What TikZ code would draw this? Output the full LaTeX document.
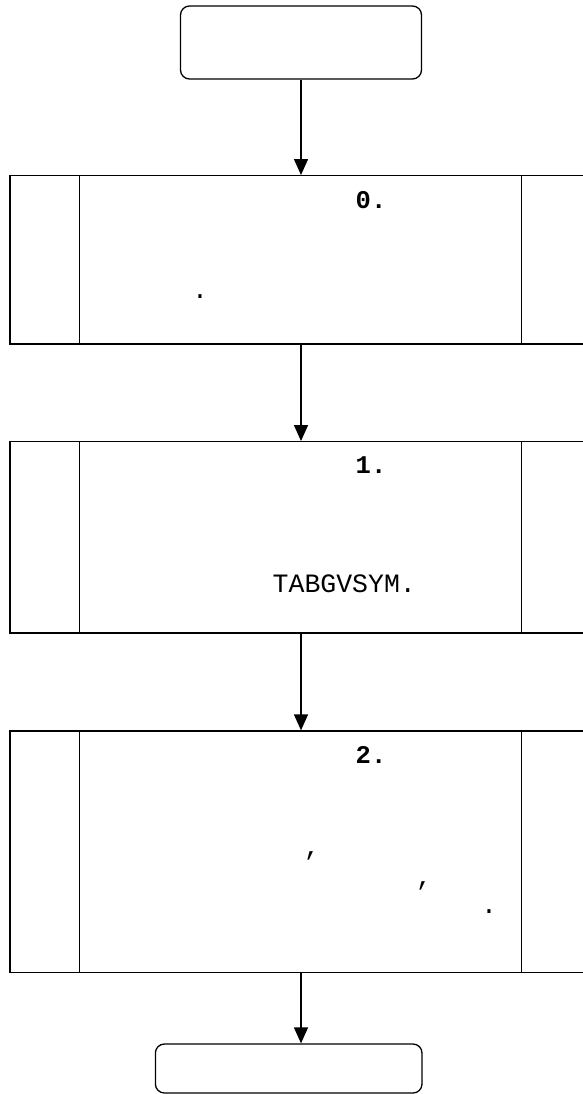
\documentclass[tikz,border=0pt]{standalone}
\usepackage{fontspec}
\setmonofont{Liberation Mono}
\usetikzlibrary{arrows.meta}

\tikzset{
  blk/.style={draw, line width=1.3pt, minimum width=582pt, inner sep=0pt},
  term/.style={draw, line width=1.3pt, rounded corners=9pt, inner sep=0pt},
  txt/.style={inner sep=0pt, font=\ttfamily\fontsize{26.5}{30}\selectfont},
  hd/.style={inner sep=0pt, anchor=base west, font=\ttfamily\bfseries\fontsize{25.5}{30}\selectfont},
  arr/.style={line width=1.3pt, -{Triangle[length=16pt,width=14pt]}}
}

\begin{document}
\begin{tikzpicture}[x=1pt,y=-1pt]

\clip (0,0) rectangle (583,1094);

\node[term, minimum width=241pt, minimum height=73pt] (t0) at (301,42.5) {};
\node[blk, minimum height=168.3pt] (b0) at (301,259.85) {};
\node[blk, minimum height=191.3pt] (b1) at (301,537.35) {};
\node[blk, minimum height=241.3pt] (b2) at (301,851.65) {};
\node[term, minimum width=266.6pt, minimum height=49pt] (t1) at (288.7,1068.5) {};

\foreach \b in {b0,b1,b2}{
  \draw[line width=1.3pt] ([xshift=70pt]\b.north west) -- ([xshift=70pt]\b.south west);
  \draw[line width=1.3pt] ([xshift=-71pt]\b.north east) -- ([xshift=-71pt]\b.south east);
}

\draw[arr] (t0) -- (b0);
\draw[arr] (b0) -- (b1);
\draw[arr] (b1) -- (b2);
\draw[arr] (b2.south) -- (b2.south |- t1.north);

\node[hd] (h0) at (355.5,208) {0.};
\node[txt, anchor=base] (p0) at (200,298) {.};

\node[hd] (h1) at (355.5,473) {1.};
\node[txt, anchor=base west] (l1) at (272.5,592) {TABGVSYM.};

\node[hd] (h2) at (355.5,763) {2.};
\node[txt, anchor=base] (c1) at (312,855) {,};
\node[txt, anchor=base] (c2) at (424,885) {,};
\node[txt, anchor=base] (p2) at (489,913) {.};

\end{tikzpicture}
\end{document}
